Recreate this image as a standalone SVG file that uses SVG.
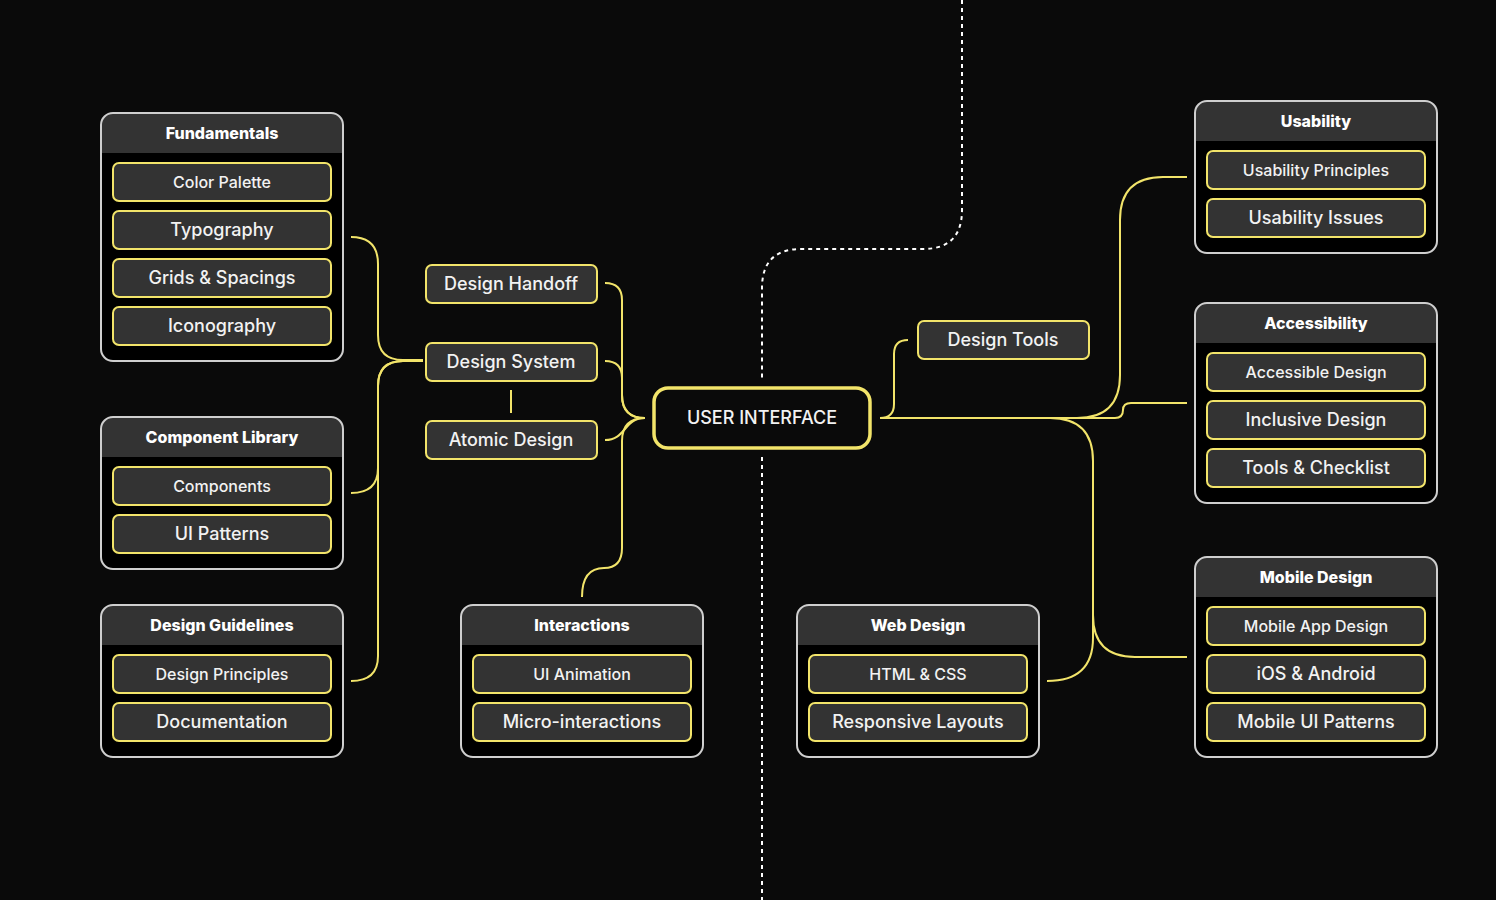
<svg xmlns="http://www.w3.org/2000/svg" width="1496" height="900" viewBox="0 0 1496 900">
<style>
.bg{fill:#0a0a0a}
.box{fill:#000}
.boxline{fill:none;stroke:#cfcfcf;stroke-width:2}
.hdr{fill:#333}
.ht{font-family:Inter,"Liberation Sans",sans-serif;font-weight:800;font-size:16px;fill:#fff;text-anchor:middle;dominant-baseline:central}
.item{fill:#333;stroke:#f2e46a;stroke-width:2}
.t15{font-family:Inter,"Liberation Sans",sans-serif;font-weight:500;font-size:16px;fill:#f2f2f2;text-anchor:middle;dominant-baseline:central}
.t18{font-family:Inter,"Liberation Sans",sans-serif;font-weight:500;font-size:18px;fill:#f2f2f2;text-anchor:middle;dominant-baseline:central}
.conn{fill:none;stroke:#f2e46a;stroke-width:2}
.dash{fill:none;stroke:#fff;stroke-width:2;stroke-dasharray:4 4}
.root{fill:#0a0a0a;stroke:#f2e46a;stroke-width:3.5}
</style>
<rect class="bg" x="0" y="0" width="1496" height="900"/>
<g id="connectors">
<path class="dash" d="M962,0 V210 Q962,249 923,249 H801 Q762,249 762,288 V379"/>
<path class="dash" d="M762,457 V900"/>
<path class="conn" d="M351,237 Q378,237 378,264 V335 Q378,360 403,360 H423"/>
<path class="conn" d="M423,361 H403 Q378,361 378,386 V468 Q378,493 351,493"/>
<path class="conn" d="M423,361 H403 Q378,361 378,386 V656 Q378,681 351,681"/>
<path class="conn" d="M605,283 Q622,283 622,300 V395 Q622,418 645,418"/>
<path class="conn" d="M605,361 Q622,361 622,378 V395 Q622,418 645,418"/>
<path class="conn" d="M605,440 C626,440 624,418 645,418"/>
<path class="conn" d="M582,597 Q582,568 604,568 Q622,568 622,548 V441 Q622,418 645,418"/>
<path class="conn" d="M511,390 V413"/>
<path class="conn" d="M880,418 Q894,418 894,404 V354 Q894,340 908,340"/>
<path class="conn" d="M880,418 H1077 Q1120,418 1120,375 V220 Q1120,177 1163,177 H1187"/>
<path class="conn" d="M880,418 H1115 Q1123,418 1123,410 Q1123,403 1131,403 H1187"/>
<path class="conn" d="M880,418 H1050 Q1093,418 1093,461 V615 Q1093,657 1135,657 H1187"/>
<path class="conn" d="M1093,600 V638 Q1093,681 1047,681"/>
</g>
<g id="root">
<rect class="root" x="654" y="388" width="216" height="60" rx="14"/>
<text class="t18" x="762" y="417.5">USER INTERFACE</text>
</g>
<g id="design-handoff">
<rect class="item" x="426" y="265" width="171" height="38" rx="6"/>
<text class="t18" x="511" y="283.5">Design Handoff</text>
</g>
<g id="design-system">
<rect class="item" x="426" y="343" width="171" height="38" rx="6"/>
<text class="t18" x="511" y="361.5">Design System</text>
</g>
<g id="atomic-design">
<rect class="item" x="426" y="421" width="171" height="38" rx="6"/>
<text class="t18" x="511" y="439.5">Atomic Design</text>
</g>
<g id="design-tools">
<rect class="item" x="918" y="321" width="171" height="38" rx="6"/>
<text class="t18" x="1003" y="339.5">Design Tools</text>
</g>
<g id="fundamentals">
<rect class="box" x="101" y="113" width="242" height="248" rx="12"/>
<path class="hdr" d="M101,153 V125 A12,12 0 0 1 113,113 H331 A12,12 0 0 1 343,125 V153 Z"/>
<rect class="boxline" x="101" y="113" width="242" height="248" rx="12"/>
<text class="ht" x="222" y="133">Fundamentals</text>
<rect class="item" x="113" y="163" width="218" height="38" rx="6"/>
<text class="t15" x="222" y="182">Color Palette</text>
<rect class="item" x="113" y="211" width="218" height="38" rx="6"/>
<text class="t18" x="222" y="229.5">Typography</text>
<rect class="item" x="113" y="259" width="218" height="38" rx="6"/>
<text class="t18" x="222" y="277.5">Grids &amp; Spacings</text>
<rect class="item" x="113" y="307" width="218" height="38" rx="6"/>
<text class="t18" x="222" y="325.5">Iconography</text>
</g>
<g id="component-library">
<rect class="box" x="101" y="417" width="242" height="152" rx="12"/>
<path class="hdr" d="M101,457 V429 A12,12 0 0 1 113,417 H331 A12,12 0 0 1 343,429 V457 Z"/>
<rect class="boxline" x="101" y="417" width="242" height="152" rx="12"/>
<text class="ht" x="222" y="437">Component Library</text>
<rect class="item" x="113" y="467" width="218" height="38" rx="6"/>
<text class="t15" x="222" y="486">Components</text>
<rect class="item" x="113" y="515" width="218" height="38" rx="6"/>
<text class="t18" x="222" y="533.5">UI Patterns</text>
</g>
<g id="design-guidelines">
<rect class="box" x="101" y="605" width="242" height="152" rx="12"/>
<path class="hdr" d="M101,645 V617 A12,12 0 0 1 113,605 H331 A12,12 0 0 1 343,617 V645 Z"/>
<rect class="boxline" x="101" y="605" width="242" height="152" rx="12"/>
<text class="ht" x="222" y="625">Design Guidelines</text>
<rect class="item" x="113" y="655" width="218" height="38" rx="6"/>
<text class="t15" x="222" y="674">Design Principles</text>
<rect class="item" x="113" y="703" width="218" height="38" rx="6"/>
<text class="t18" x="222" y="721.5">Documentation</text>
</g>
<g id="interactions">
<rect class="box" x="461" y="605" width="242" height="152" rx="12"/>
<path class="hdr" d="M461,645 V617 A12,12 0 0 1 473,605 H691 A12,12 0 0 1 703,617 V645 Z"/>
<rect class="boxline" x="461" y="605" width="242" height="152" rx="12"/>
<text class="ht" x="582" y="625">Interactions</text>
<rect class="item" x="473" y="655" width="218" height="38" rx="6"/>
<text class="t15" x="582" y="674">UI Animation</text>
<rect class="item" x="473" y="703" width="218" height="38" rx="6"/>
<text class="t18" x="582" y="721.5">Micro-interactions</text>
</g>
<g id="web-design">
<rect class="box" x="797" y="605" width="242" height="152" rx="12"/>
<path class="hdr" d="M797,645 V617 A12,12 0 0 1 809,605 H1027 A12,12 0 0 1 1039,617 V645 Z"/>
<rect class="boxline" x="797" y="605" width="242" height="152" rx="12"/>
<text class="ht" x="918" y="625">Web Design</text>
<rect class="item" x="809" y="655" width="218" height="38" rx="6"/>
<text class="t15" x="918" y="674">HTML &amp; CSS</text>
<rect class="item" x="809" y="703" width="218" height="38" rx="6"/>
<text class="t18" x="918" y="721.5">Responsive Layouts</text>
</g>
<g id="usability">
<rect class="box" x="1195" y="101" width="242" height="152" rx="12"/>
<path class="hdr" d="M1195,141 V113 A12,12 0 0 1 1207,101 H1425 A12,12 0 0 1 1437,113 V141 Z"/>
<rect class="boxline" x="1195" y="101" width="242" height="152" rx="12"/>
<text class="ht" x="1316" y="121">Usability</text>
<rect class="item" x="1207" y="151" width="218" height="38" rx="6"/>
<text class="t15" x="1316" y="170">Usability Principles</text>
<rect class="item" x="1207" y="199" width="218" height="38" rx="6"/>
<text class="t18" x="1316" y="217.5">Usability Issues</text>
</g>
<g id="accessibility">
<rect class="box" x="1195" y="303" width="242" height="200" rx="12"/>
<path class="hdr" d="M1195,343 V315 A12,12 0 0 1 1207,303 H1425 A12,12 0 0 1 1437,315 V343 Z"/>
<rect class="boxline" x="1195" y="303" width="242" height="200" rx="12"/>
<text class="ht" x="1316" y="323">Accessibility</text>
<rect class="item" x="1207" y="353" width="218" height="38" rx="6"/>
<text class="t15" x="1316" y="372">Accessible Design</text>
<rect class="item" x="1207" y="401" width="218" height="38" rx="6"/>
<text class="t18" x="1316" y="419.5">Inclusive Design</text>
<rect class="item" x="1207" y="449" width="218" height="38" rx="6"/>
<text class="t18" x="1316" y="467.5">Tools &amp; Checklist</text>
</g>
<g id="mobile-design">
<rect class="box" x="1195" y="557" width="242" height="200" rx="12"/>
<path class="hdr" d="M1195,597 V569 A12,12 0 0 1 1207,557 H1425 A12,12 0 0 1 1437,569 V597 Z"/>
<rect class="boxline" x="1195" y="557" width="242" height="200" rx="12"/>
<text class="ht" x="1316" y="577">Mobile Design</text>
<rect class="item" x="1207" y="607" width="218" height="38" rx="6"/>
<text class="t15" x="1316" y="626">Mobile App Design</text>
<rect class="item" x="1207" y="655" width="218" height="38" rx="6"/>
<text class="t18" x="1316" y="673.5">iOS &amp; Android</text>
<rect class="item" x="1207" y="703" width="218" height="38" rx="6"/>
<text class="t18" x="1316" y="721.5">Mobile UI Patterns</text>
</g>
</svg>
